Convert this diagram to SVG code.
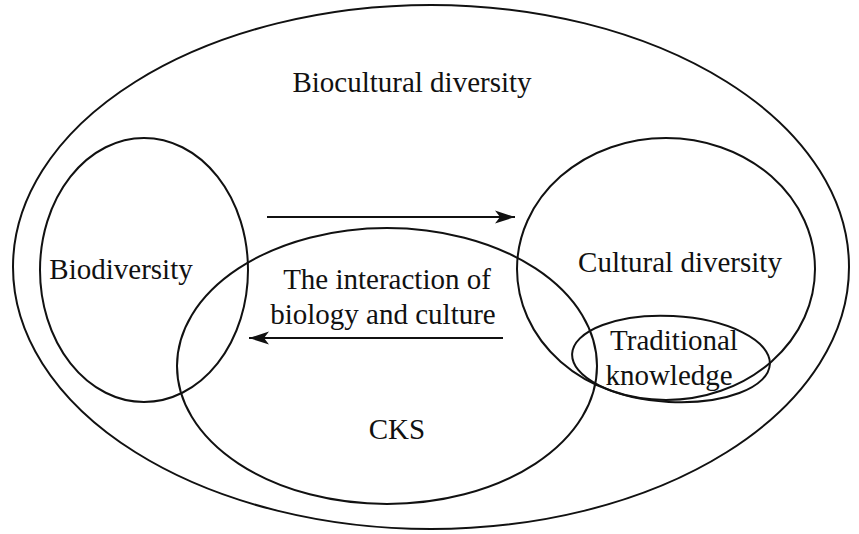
<svg xmlns="http://www.w3.org/2000/svg" width="859" height="534" viewBox="0 0 859 534">
<style>
.e{fill:none;stroke:#111;stroke-width:2}
.t{font-family:"Liberation Serif","Times New Roman",serif;font-size:29px;fill:#111;text-anchor:middle}
.c{stroke:#111;stroke-width:2;fill:none}
</style>
<defs>
<marker id="ah" markerUnits="userSpaceOnUse" markerWidth="22" markerHeight="14" refX="20" refY="7" orient="auto">
<path d="M0,0.5 L20,7 L0,13.5 L5,7 Z" fill="#111"/>
</marker>
</defs>
<rect width="859" height="534" fill="#fff"/>
<g id="biocultural">
<ellipse class="e" cx="431" cy="267" rx="418" ry="262"/>
<text class="t" x="412" y="92">Biocultural diversity</text>
</g>
<g id="biodiversity">
<ellipse class="e" cx="144" cy="270" rx="104" ry="132"/>
<text class="t" x="121" y="279">Biodiversity</text>
</g>
<g id="cultural">
<ellipse class="e" cx="666" cy="269" rx="149" ry="131"/>
<text class="t" x="680" y="272">Cultural diversity</text>
</g>
<g id="cks">
<ellipse class="e" cx="387" cy="366" rx="210" ry="138"/>
<text class="t" x="397" y="439">CKS</text>
</g>
<g id="interaction">
<text class="t" x="387" y="289">The interaction of</text>
<text class="t" x="383" y="324">biology and culture</text>
</g>
<g id="traditional">
<ellipse class="e" cx="671" cy="359" rx="99" ry="43" transform="rotate(3 671 359)"/>
<text class="t" x="674" y="350">Traditional</text>
<text class="t" x="669" y="385">knowledge</text>
</g>
<g id="connectors">
<line class="c" x1="267" y1="217" x2="515" y2="217" marker-end="url(#ah)"/>
<line class="c" x1="503" y1="338" x2="249" y2="338" marker-end="url(#ah)"/>
</g>
</svg>
